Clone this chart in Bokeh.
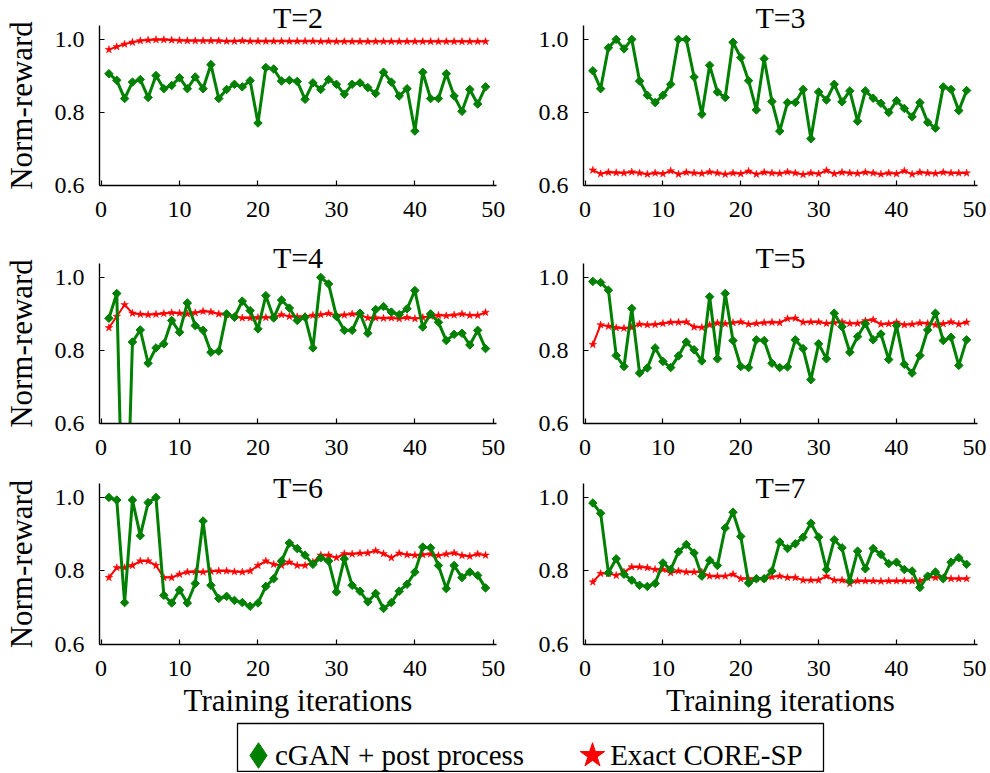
import numpy as np
from bokeh.plotting import figure
from bokeh.layouts import column, row, Spacer
from bokeh.models import Range1d, FixedTicker, Legend, LegendItem, PrintfTickFormatter
from bokeh.embed import file_html
from bokeh.resources import INLINE

# ---------------- data ----------------
iterations = list(range(1, 50))
panel_titles = ["T=2", "T=3", "T=4", "T=5", "T=6", "T=7"]
x_ticks = [0, 10, 20, 30, 40, 50]
y_ticks = [0.6, 0.8, 1.0]
series_names = ["cGAN + post process", "Exact CORE-SP"]
x_label = "Training iterations"
y_label = "Norm-reward"

cgan_T2 = [0.906, 0.888, 0.838, 0.883, 0.890, 0.841, 0.901, 0.865, 0.874, 0.895,
           0.865, 0.897, 0.865, 0.931, 0.838, 0.863, 0.877, 0.870, 0.887, 0.771,
           0.923, 0.919, 0.886, 0.888, 0.885, 0.836, 0.881, 0.863, 0.890, 0.877,
           0.850, 0.877, 0.881, 0.868, 0.852, 0.910, 0.883, 0.845, 0.865, 0.749,
           0.910, 0.838, 0.838, 0.906, 0.845, 0.803, 0.863, 0.823, 0.870]
exact_T2 = [0.972, 0.980, 0.987, 0.992, 0.996, 0.998, 0.999, 0.999, 0.998, 0.997,
            0.996, 0.996, 0.996, 0.996, 0.996, 0.995, 0.995, 0.996, 0.995, 0.995,
            0.995, 0.995, 0.995, 0.995, 0.995, 0.995, 0.995, 0.994, 0.995, 0.994,
            0.994, 0.994, 0.994, 0.994, 0.994, 0.994, 0.994, 0.994, 0.994, 0.994,
            0.994, 0.994, 0.994, 0.994, 0.994, 0.994, 0.994, 0.994, 0.994]

cgan_T3 = [0.914, 0.865, 0.977, 1.000, 0.974, 1.000, 0.886, 0.847, 0.827, 0.847,
           0.877, 1.000, 1.000, 0.897, 0.795, 0.929, 0.856, 0.841, 0.992, 0.950,
           0.887, 0.807, 0.947, 0.830, 0.749, 0.827, 0.827, 0.863, 0.728, 0.856,
           0.834, 0.877, 0.829, 0.859, 0.776, 0.859, 0.839, 0.825, 0.800, 0.832,
           0.811, 0.788, 0.827, 0.773, 0.757, 0.870, 0.863, 0.805, 0.860]
exact_T3 = [0.642, 0.632, 0.636, 0.635, 0.634, 0.637, 0.634, 0.631, 0.634, 0.632,
            0.640, 0.631, 0.636, 0.634, 0.633, 0.637, 0.634, 0.631, 0.634, 0.632,
            0.639, 0.631, 0.636, 0.634, 0.633, 0.637, 0.634, 0.630, 0.634, 0.632,
            0.641, 0.632, 0.636, 0.634, 0.633, 0.636, 0.634, 0.631, 0.634, 0.632,
            0.640, 0.631, 0.636, 0.634, 0.633, 0.636, 0.634, 0.634, 0.634]

cgan_T4 = [0.888, 0.956, 0.100, 0.823, 0.856, 0.765, 0.807, 0.818, 0.882, 0.850,
           0.930, 0.868, 0.855, 0.795, 0.798, 0.900, 0.891, 0.935, 0.909, 0.859,
           0.950, 0.889, 0.938, 0.916, 0.882, 0.891, 0.807, 1.000, 0.982, 0.893,
           0.855, 0.855, 0.902, 0.847, 0.912, 0.920, 0.905, 0.898, 0.914, 0.964,
           0.864, 0.900, 0.877, 0.827, 0.844, 0.847, 0.815, 0.855, 0.805]
exact_T4 = [0.862, 0.893, 0.925, 0.902, 0.899, 0.898, 0.899, 0.901, 0.903, 0.902,
            0.900, 0.903, 0.907, 0.905, 0.900, 0.898, 0.893, 0.889, 0.889, 0.890,
            0.890, 0.891, 0.898, 0.893, 0.892, 0.893, 0.896, 0.898, 0.901, 0.896,
            0.897, 0.900, 0.897, 0.889, 0.889, 0.888, 0.889, 0.887, 0.890, 0.887,
            0.890, 0.894, 0.896, 0.895, 0.897, 0.900, 0.896, 0.896, 0.904]

cgan_T5 = [0.989, 0.986, 0.965, 0.786, 0.756, 0.915, 0.738, 0.752, 0.807, 0.770,
           0.753, 0.785, 0.823, 0.802, 0.771, 0.947, 0.777, 0.956, 0.827, 0.756,
           0.753, 0.829, 0.827, 0.765, 0.753, 0.755, 0.829, 0.805, 0.720, 0.818,
           0.777, 0.902, 0.865, 0.795, 0.838, 0.873, 0.829, 0.845, 0.775, 0.868,
           0.762, 0.738, 0.786, 0.856, 0.902, 0.827, 0.836, 0.759, 0.829]
exact_T5 = [0.816, 0.870, 0.866, 0.862, 0.861, 0.863, 0.872, 0.870, 0.871, 0.874,
            0.877, 0.877, 0.878, 0.864, 0.863, 0.870, 0.875, 0.873, 0.876, 0.878,
            0.872, 0.874, 0.876, 0.877, 0.876, 0.887, 0.888, 0.877, 0.878, 0.878,
            0.874, 0.876, 0.878, 0.874, 0.874, 0.881, 0.884, 0.872, 0.873, 0.877,
            0.870, 0.872, 0.875, 0.874, 0.870, 0.873, 0.878, 0.872, 0.877]

cgan_T6 = [1.000, 0.993, 0.714, 0.993, 0.896, 0.986, 1.000, 0.734, 0.713, 0.748,
           0.713, 0.766, 0.936, 0.761, 0.725, 0.731, 0.720, 0.714, 0.704, 0.713,
           0.758, 0.779, 0.827, 0.876, 0.861, 0.843, 0.818, 0.836, 0.827, 0.743,
           0.833, 0.761, 0.745, 0.716, 0.739, 0.698, 0.714, 0.745, 0.764, 0.797,
           0.865, 0.863, 0.815, 0.752, 0.815, 0.782, 0.797, 0.788, 0.754]
exact_T6 = [0.782, 0.809, 0.809, 0.815, 0.827, 0.827, 0.815, 0.782, 0.782, 0.791,
            0.797, 0.798, 0.797, 0.799, 0.800, 0.800, 0.798, 0.797, 0.800, 0.815,
            0.827, 0.818, 0.815, 0.824, 0.815, 0.815, 0.824, 0.843, 0.843, 0.836,
            0.847, 0.846, 0.848, 0.849, 0.855, 0.847, 0.836, 0.848, 0.844, 0.843,
            0.844, 0.846, 0.842, 0.846, 0.849, 0.842, 0.840, 0.846, 0.843]

cgan_T7 = [0.985, 0.957, 0.795, 0.833, 0.791, 0.775, 0.761, 0.758, 0.766, 0.822,
           0.804, 0.852, 0.872, 0.849, 0.786, 0.829, 0.815, 0.917, 0.960, 0.894,
           0.767, 0.779, 0.779, 0.800, 0.879, 0.861, 0.874, 0.892, 0.930, 0.892,
           0.804, 0.885, 0.863, 0.773, 0.854, 0.806, 0.861, 0.845, 0.820, 0.824,
           0.804, 0.800, 0.755, 0.786, 0.797, 0.779, 0.824, 0.836, 0.818]
exact_T7 = [0.770, 0.793, 0.793, 0.788, 0.797, 0.811, 0.811, 0.809, 0.804, 0.804,
            0.795, 0.800, 0.797, 0.797, 0.797, 0.786, 0.786, 0.786, 0.791, 0.779,
            0.779, 0.779, 0.779, 0.784, 0.786, 0.782, 0.782, 0.775, 0.775, 0.775,
            0.786, 0.775, 0.775, 0.766, 0.773, 0.773, 0.773, 0.772, 0.773, 0.773,
            0.773, 0.773, 0.773, 0.782, 0.782, 0.782, 0.779, 0.779, 0.779]

cgan_series = [cgan_T2, cgan_T3, cgan_T4, cgan_T5, cgan_T6, cgan_T7]
exact_series = [exact_T2, exact_T3, exact_T4, exact_T5, exact_T6, exact_T7]

# ---------------- style ----------------
FONT = "Liberation Serif"
GREEN = "#008000"
RED = "#ff0000"

ROW_TOP = [25, 38, 20]
ROW_BOTTOM = [40, 40, 77]
ROW_FH = [160, 160, 161]
TITLE_STANDOFF = [-17, -20, -41]


def make_panel(idx):
    r, c = divmod(idx, 2)
    left = (c == 0)
    fw = 397 if left else 394
    p = figure(frame_width=fw, frame_height=ROW_FH[r],
               x_range=Range1d(-0.2, 50.4), y_range=Range1d(0.6, 1.038),
               output_backend="svg", toolbar_location=None,
               min_border_left=99 if left else 75,
               min_border_right=12,
               min_border_top=ROW_TOP[r], min_border_bottom=ROW_BOTTOM[r],
               outline_line_color=None, background_fill_color="white",
               border_fill_color="white")
    p.grid.visible = False

    p.title.text = panel_titles[idx]
    p.title.align = "center"
    p.title.text_font = FONT
    p.title.text_font_size = "30px"
    p.title.text_font_style = "normal"
    p.title.text_color = "black"
    p.title.standoff = TITLE_STANDOFF[r]

    p.line(iterations, exact_series[idx], line_color=RED, line_width=2)
    p.scatter(iterations, exact_series[idx], marker="star", size=8,
              fill_color=RED, line_color=RED, line_width=0.5)
    p.line(iterations, cgan_series[idx], line_color=GREEN, line_width=3)
    p.scatter(iterations, cgan_series[idx], marker="square", angle=np.pi / 4,
              size=6, fill_color=GREEN, line_color=GREEN, line_width=1)

    for ax in (p.xaxis[0], p.yaxis[0]):
        ax.axis_line_width = 1.4
        ax.axis_line_color = "black"
        ax.major_tick_in = 5
        ax.major_tick_out = 0
        ax.major_tick_line_width = 1.2
        ax.minor_tick_line_color = None
        ax.major_label_text_font = FONT
        ax.major_label_text_font_size = "24px"
        ax.major_label_text_color = "black"
        ax.axis_label_text_font = FONT
        ax.axis_label_text_font_size = "31px"
        ax.axis_label_text_font_style = "normal"
        ax.axis_label_text_color = "black"
    p.xaxis.ticker = FixedTicker(ticks=x_ticks)
    p.yaxis.ticker = FixedTicker(ticks=y_ticks)
    p.yaxis.formatter = PrintfTickFormatter(format="%.1f")
    p.xaxis.major_label_standoff = 16
    p.yaxis.major_label_standoff = 15
    if left:
        p.yaxis.axis_label = y_label
        p.yaxis.axis_label_standoff = 13
    if r == 2:
        p.xaxis.axis_label = x_label
        p.xaxis.axis_label_standoff = 4
    return p


panels = [make_panel(i) for i in range(6)]

# ---------------- legend ----------------
lp = figure(width=590, height=51, output_backend="svg", toolbar_location=None,
            min_border_left=2, min_border_right=2, min_border_top=2, min_border_bottom=0,
            x_axis_type=None, y_axis_type=None,
            x_range=Range1d(-2, -1), y_range=Range1d(-2, -1),
            outline_line_color="black", outline_line_width=1.3)
lp.grid.visible = False
# series renderers (outside the visible range of this strip; only used by the legend)
g_mark = lp.scatter(iterations, cgan_T2, marker="diamond", fill_color=GREEN, line_color=GREEN)
r_mark = lp.scatter(iterations, exact_T2, marker="star", fill_color=RED, line_color=RED)
g_text = lp.scatter(iterations, cgan_T2, fill_alpha=0, line_alpha=0)
r_text = lp.scatter(iterations, exact_T2, fill_alpha=0, line_alpha=0)

common = dict(orientation="horizontal", padding=0, margin=0, label_standoff=0,
              border_line_alpha=0, background_fill_alpha=0, label_text_color="black",
              label_text_font=FONT)

leg_g = Legend(items=[LegendItem(label=" ", renderers=[g_mark])], location=(-11, -15),
               glyph_width=64, glyph_height=64, label_width=0, label_text_font_size="1px", **common)
leg_r = Legend(items=[LegendItem(label=" ", renderers=[r_mark])], location=(323, -15),
               glyph_width=64, glyph_height=64, label_width=0, label_text_font_size="1px", **common)
leg_t = Legend(items=[LegendItem(label=series_names[0], renderers=[g_text]),
                      LegendItem(label=series_names[1], renderers=[r_text])],
               location=(37, -8), glyph_width=1, glyph_height=50, spacing=85,
               label_text_font_size="29px", **common)
for lg in (leg_g, leg_r, leg_t):
    lp.add_layout(lg)

layout = column(row(panels[0], panels[1]),
                row(panels[2], panels[3]),
                row(panels[4], panels[5]),
                row(Spacer(width=235, height=51), lp))

open("out.html", "w").write(file_html(layout, INLINE))
